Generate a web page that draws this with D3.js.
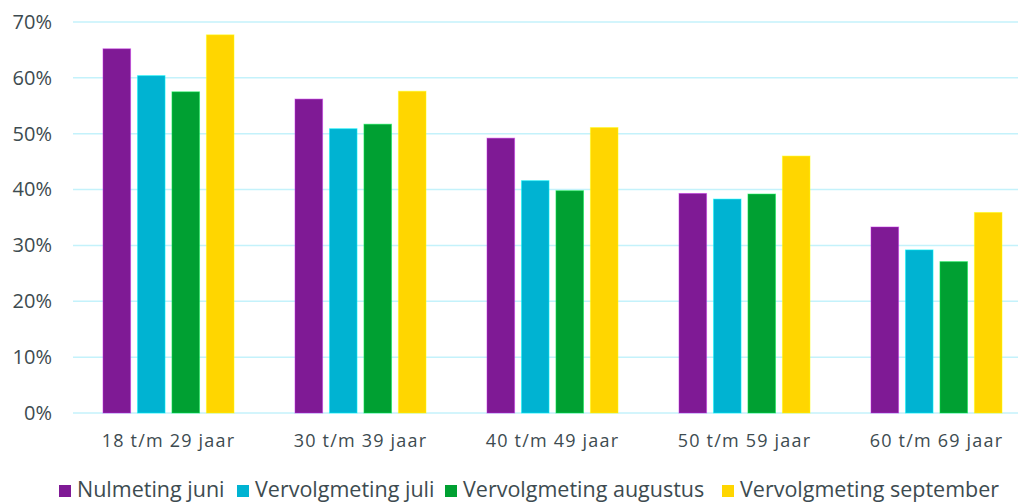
<!DOCTYPE html>
<html><head><meta charset="utf-8">
<script src="https://cdn.jsdelivr.net/npm/d3@7"></script>
<style>body{margin:0;background:#fff}svg{display:block}</style>
</head><body>
<svg id="c" width="1018" height="503"></svg>
<script>
const categories = ["18 t/m 29 jaar","30 t/m 39 jaar","40 t/m 49 jaar","50 t/m 59 jaar","60 t/m 69 jaar"];
const seriesNames = ["Nulmeting juni","Vervolgmeting juli","Vervolgmeting augustus","Vervolgmeting september"];
const nulmetingJuni = [65.2,56.2,49.2,39.3,33.3];
const vervolgJuli = [60.4,50.9,41.6,38.3,29.2];
const vervolgAugustus = [57.5,51.7,39.8,39.2,27.1];
const vervolgSeptember = [67.7,57.6,51.1,46.0,35.9];
const yTicks = [0,10,20,30,40,50,60,70];
const colors = ["#7F1A95","#00B3D2","#00A032","#FFD600"];
const series = [nulmetingJuni,vervolgJuli,vervolgAugustus,vervolgSeptember];

const svg = d3.select("#c");
const font = "'Open Sans', sans-serif";
const textColor = "#3d4b50";
const x = d3.scaleBand().domain(categories).range([72.5,1032.5]).paddingInner(0).paddingOuter(0);
const x1 = d3.scaleBand().domain(d3.range(4)).range([30.5,161.5]).paddingInner(0.2).paddingOuter(0);
const y = d3.scaleLinear().domain([0,70]).range([413,22]);

// gridlines
svg.append("g").selectAll("line").data(yTicks).join("line")
  .attr("x1",73).attr("x2",1018).attr("y1",d=>y(d)).attr("y2",d=>y(d))
  .attr("stroke","#c4f2fb").attr("stroke-width",1.5);

// y axis labels
const yAxis = d3.axisLeft(y).tickValues(yTicks).tickFormat(d=>d+"%").tickSize(0).tickPadding(0);
const ya = svg.append("g").attr("transform","translate(52,0)").call(yAxis);
ya.select(".domain").remove();
ya.selectAll("text").attr("font-family",font).attr("font-size",20).attr("fill",textColor);

// bars
const g = svg.append("g");
categories.forEach((cat,i)=>{
  g.append("g").selectAll("rect").data(series.map((s,k)=>({k,v:s[i]}))).join("rect")
    .attr("x",d=>x(cat)+x1(d.k)).attr("width",x1.bandwidth())
    .attr("y",d=>y(d.v)).attr("height",d=>y(0)-y(d.v))
    .attr("fill",d=>colors[d.k])
    .attr("stroke",d=>d3.color(colors[d.k]).brighter(1.2)).attr("stroke-opacity",0.5).attr("stroke-width",1);
});

// x axis labels
const xAxis = d3.axisBottom(x).tickSize(0).tickPadding(0);
const xa = svg.append("g").attr("transform","translate(0,434)").call(xAxis);
xa.select(".domain").remove();
xa.selectAll("text").attr("font-family",font).attr("font-size",18).attr("letter-spacing",1.2)
  .attr("fill",textColor).attr("dy","0.71em");

// legend
const legX = [59,237,445,722];
const leg = svg.append("g");
seriesNames.forEach((n,k)=>{
  leg.append("rect").attr("x",legX[k]).attr("y",485).attr("width",12).attr("height",12).attr("fill",colors[k]);
  leg.append("text").attr("x",legX[k]+18).attr("y",497).text(n)
    .attr("font-family",font).attr("font-size",21.5).attr("fill",textColor);
});
</script>
</body></html>
